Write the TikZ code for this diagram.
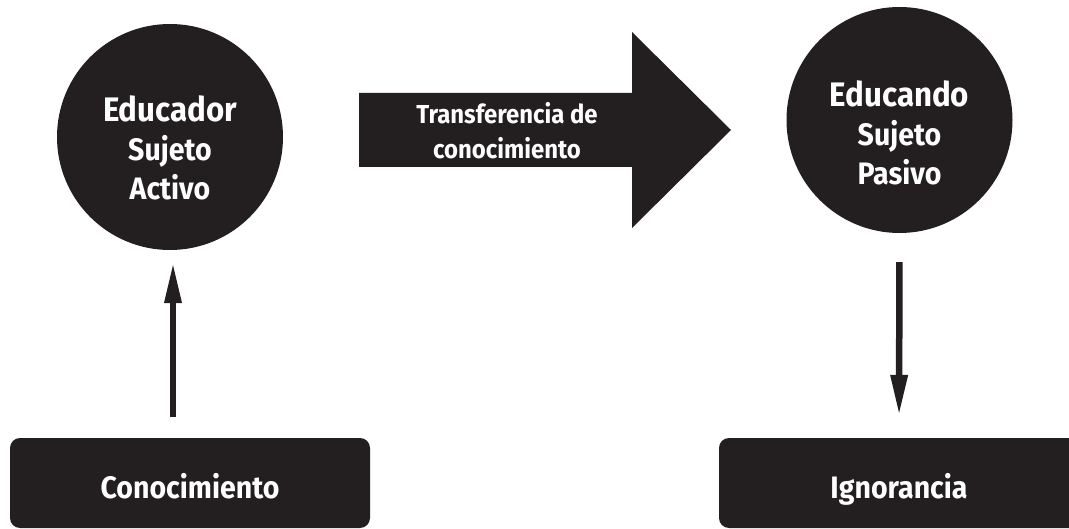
\documentclass[tikz,border=0pt]{standalone}
\usepackage{fontspec}
\setmainfont{Fira Sans}[FakeStretch=0.92]
\usetikzlibrary{arrows.meta}
\definecolor{ink}{HTML}{231F20}

\tikzset{
  bubble/.style={circle, fill=ink, minimum size=226pt, inner sep=0pt},
  bubbletext/.style={text=white, align=center, font=\bfseries\fontsize{31}{39}\selectfont},
  plate/.style={fill=ink, rounded corners=10pt, minimum width=360pt, minimum height=90pt,
    text height=31pt, text depth=0pt, text=white, font=\bfseries\fontsize{31}{36}\selectfont},
  link/.style={draw=ink, line width=6.5pt, -{Triangle[length=41pt,width=16pt]}},
}

\begin{document}
\begin{tikzpicture}[x=1pt,y=-1pt]
\useasboundingbox (0,0) rectangle (1069,529);

\node[bubble] (educador) at (170,137) {};
\node[bubbletext] (educadortext) at ([yshift=-11pt]educador.center)
  {{\fontsize{34}{39}\selectfont Educador}\\Sujeto\\Activo};

\node[bubble] (educando) at (899.5,120) {};
\node[bubbletext] (educandotext) at ([yshift=-13pt]educando.center)
  {{\fontsize{34}{39}\selectfont Educando}\\Sujeto\\Pasivo};

\fill[ink] (359,93) -- (632,93) -- (632,32) -- (731,130) -- (632,228) -- (632,167) -- (359,167) -- cycle;
\node[text=white, align=center, font=\bfseries\fontsize{26}{35}\selectfont] (transfer) at (507,131)
  {Transferencia de\\conocimiento};

\node[plate] (know) at (190,483) {Conocimiento};
\node[plate] (ignorance) at (899,483) {Ignorancia};

\draw[link, shorten <=21pt, shorten >=12pt] ([xshift=-17pt]know.north) -- ([xshift=3pt]educador.south);
\draw[link, shorten <=29pt, shorten >=22pt] (educando.south) -- (ignorance.north);
\end{tikzpicture}
\end{document}
